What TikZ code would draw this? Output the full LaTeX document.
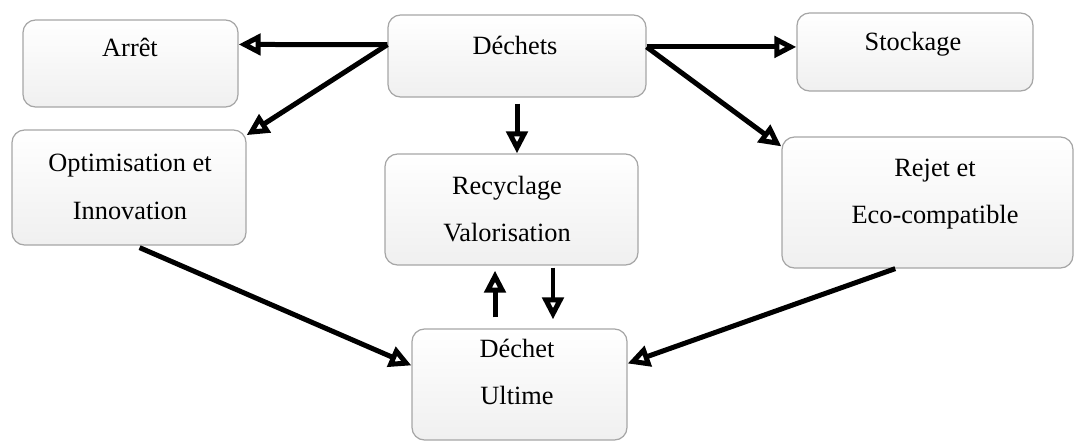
\documentclass[tikz,border=0pt]{standalone}
\usepackage{fontspec}
\setmainfont{Liberation Serif}
\usetikzlibrary{arrows.meta}
\tikzset{
  boite/.style={draw=gray!70, line width=0.7pt, rounded corners=0.25cm, top color=white, bottom color=gray!12, inner sep=0pt},
  texte/.style={align=center, font=\fontsize{15}{27}\selectfont, text=black},
  fleche/.style={line width=0.1cm, -{Triangle[open, length=0.44cm, width=0.42cm]}}
}

\begin{document}
\begin{tikzpicture}[x=0.02cm, y=-0.02cm]
  \useasboundingbox (0,0) rectangle (1075,441);
  \foreach \nom/\cx/\cy/\w/\h/\tx/\ty/\txt in {
    arret/130.5/63.5/215/87/130/47/Arrêt,
    dechets/517/56/258/82/515/45/Déchets,
    stockage/915/52/236/78/913/44/Stockage,
    optim/129/187.5/234/115/130/187/{Optimisation et\\Innovation},
    recyc/511.5/209.5/253/111/507/209/{Recyclage\\Valorisation},
    rejet/927.5/202.5/291/131/935/194/{Rejet et\\Eco-compatible},
    ultime/519.5/384.5/215/111/517/372/{Déchet\\Ultime}}
  {
    \node[boite, minimum width=\w*0.02cm, minimum height=\h*0.02cm] (\nom) at (\cx,\cy) {};
    \node[texte] (\nom-t) at (\tx,\ty) {\txt};
  }

  \draw[fleche] (dechets.175) -- (arret.10);
  \draw[fleche] (dechets.175) -- (optim.24);
  \draw[fleche] (dechets.4) -- (dechets.4 -| stockage.west);
  \draw[fleche] (dechets.4) -- (rejet.159);
  \draw[fleche, shorten <=0.12cm] (dechets.south) -- (dechets.south |- recyc.north);
  \draw[fleche, shorten <=0.22cm, shorten >=0.1cm] ([xshift=-0.49cm]ultime.north) -- ([xshift=-0.49cm]ultime.north |- recyc.south);
  \draw[fleche, shorten <=0.04cm, shorten >=0.18cm] ([xshift=0.67cm]ultime.north |- recyc.south) -- ([xshift=0.67cm]ultime.north);
  \draw[fleche, shorten <=0.1cm] ([xshift=0.12cm]optim.south) -- (ultime.170);
  \draw[fleche] (rejet.244) -- (ultime.11);
\end{tikzpicture}
\end{document}
